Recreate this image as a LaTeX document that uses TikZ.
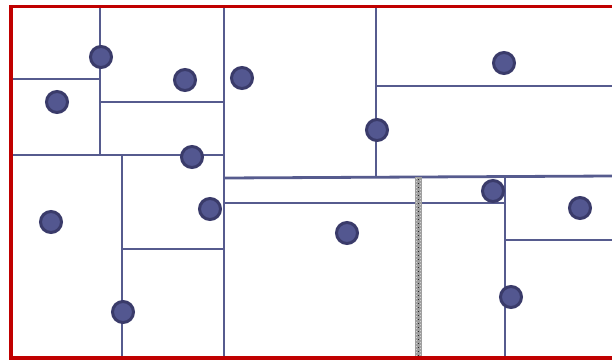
\documentclass[tikz,border=0pt]{standalone}
\usepackage{tikz}

\definecolor{wallblue}{RGB}{86,91,142}
\definecolor{sitefill}{RGB}{83,87,144}
\definecolor{siteedge}{RGB}{58,59,106}
\definecolor{borderred}{RGB}{192,0,0}

\tikzset{
    wall/.style={draw=wallblue, line width=2.8pt},
    site/.style={circle, fill=sitefill, draw=siteedge, line width=3pt, minimum size=21pt, inner sep=0pt},
}

\begin{document}
\begin{tikzpicture}[x=1pt, y=-1pt]
    \useasboundingbox (0,0) rectangle (612,359);

    % Left block
    \draw[wall] (100,7) -- (100,155);
    \draw[wall] (12,79) -- (100,79);
    \draw[wall] (100,102) -- (224,102);
    \draw[wall] (12,155) -- (224,155);
    \draw[wall] (122,155) -- (122,358);
    \draw[wall] (122,249) -- (224,249);
    \draw[wall] (224,7) -- (224,358);

    % Middle and right blocks
    \draw[wall] (376,7) -- (376,177);
    \draw[wall] (376,86) -- (612,86);
    \draw[wall] (224,178) -- (612,176);
    \draw[wall] (224,203) -- (505,203);
    \draw[wall] (505,177) -- (505,358);
    \draw[wall] (505,240) -- (612,240);

    % Gray strip
    \fill[gray!75] (415,177) rectangle (422,358);
    \draw[black!85, dash pattern=on 1pt off 3pt, line width=1.4pt] (418.5,179) -- (418.5,358);
    \draw[white!65!gray, dash pattern=on 1pt off 2pt, line width=1pt] (416.5,178) -- (416.5,358);
    \draw[white!65!gray, dash pattern=on 1pt off 2pt, line width=1pt] (420.5,179.5) -- (420.5,358);

    % Red border (right side open)
    \draw[borderred, line width=3.5pt] (612,6.5) -- (11,6.5) -- (11,358) -- (612,358);

    % Sites
    \node[site] (s1) at (101,57) {};
    \node[site] (s2) at (57,102) {};
    \node[site] (s3) at (185,80) {};
    \node[site] (s4) at (242,78) {};
    \node[site] (s5) at (192,157) {};
    \node[site] (s6) at (210,209) {};
    \node[site] (s7) at (51,222) {};
    \node[site] (s8) at (123,312) {};
    \node[site] (s9) at (347,233) {};
    \node[site] (s10) at (377,130) {};
    \node[site] (s11) at (504,63) {};
    \node[site] (s12) at (493,191) {};
    \node[site] (s13) at (580,208) {};
    \node[site] (s14) at (511,297) {};

\end{tikzpicture}
\end{document}
